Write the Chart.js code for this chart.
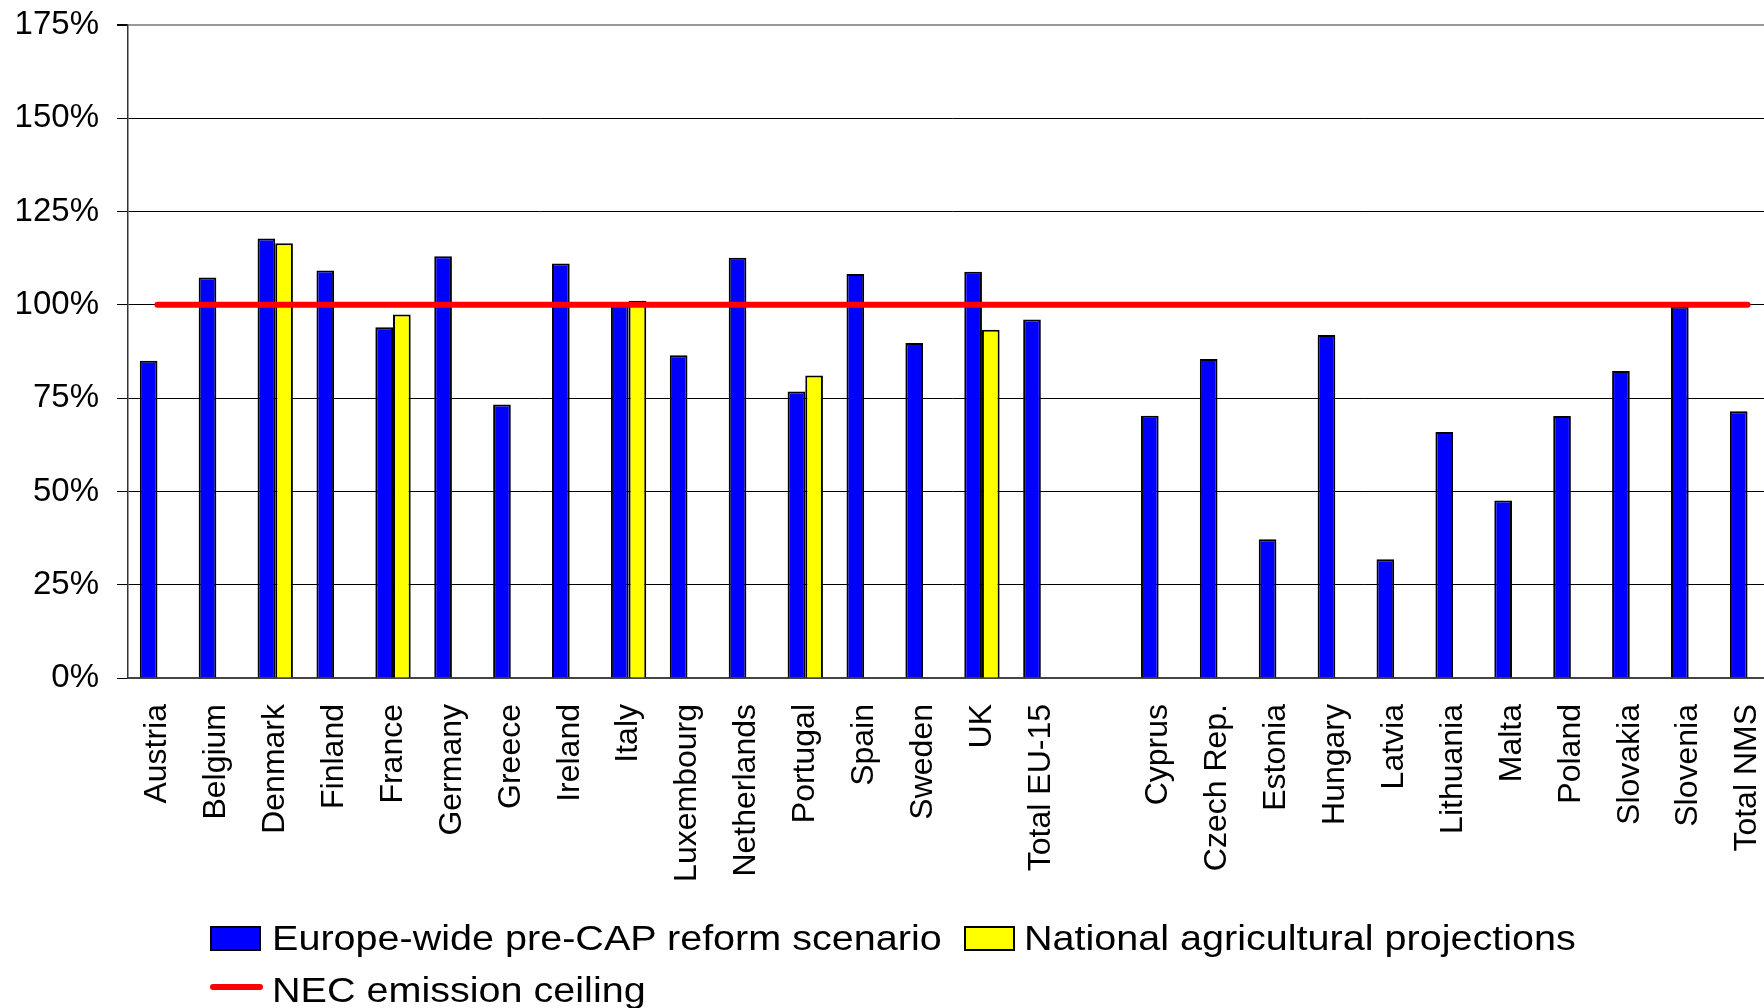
<!DOCTYPE html>
<html>
<head>
<meta charset="utf-8">
<script src="https://cdn.jsdelivr.net/npm/chart.js@4.4.0/dist/chart.umd.min.js"></script>
<style>
	html, body { margin: 0; padding: 0; background: #fff; overflow: hidden; }
	#container { position: absolute; left: 0; top: 0; width: 1777px; height: 1008px; }
	.legend-text {
		position: absolute;
		font-family: 'Liberation Sans', Arial, sans-serif;
		font-size: 35px;
		line-height: 35px;
		color: #000;
		white-space: nowrap;
		transform: scaleX(1.13);
		transform-origin: left top;
	}
	.legend-box { position: absolute; box-sizing: border-box; border: 2px solid #000; }
	.legend-line { position: absolute; height: 6px; border-radius: 3px; }
</style>
</head>
<body>
<div id="container"><canvas id="chart"></canvas></div>
<div id="legend"></div>
<script>
/// categories (empty slot separates EU-15 from the new member states)
const categories = [
	"Austria", "Belgium", "Denmark", "Finland", "France", "Germany", "Greece",
	"Ireland", "Italy", "Luxembourg", "Netherlands", "Portugal", "Spain", "Sweden",
	"UK", "Total EU-15", "",
	"Cyprus", "Czech Rep.", "Estonia", "Hungary", "Latvia", "Lithuania", "Malta",
	"Poland", "Slovakia", "Slovenia", "Total NMS"
]

// % of the NEC ceiling
const preCapScenario = [
	85, 107.3, 117.8, 109.2, 94, 113, 73.3,
	111.1, 100, 86.5, 112.6, 76.8, 108.3, 89.8,
	108.9, 96.1, null,
	70.3, 85.5, 37.2, 91.9, 31.8, 65.9, 47.6,
	70.2, 82.3, 99.5, 71.5
]

const nationalProjections = [
	null, null, 116.5, null, 97.4, null, null,
	null, 101.1, null, null, 81.1, null, null,
	93.3, null, null,
	null, null, null, null, null, null, null,
	null, null, null, null
]

const necCeiling = [
	100, 100, 100, 100, 100, 100, 100,
	100, 100, 100, 100, 100, 100, 100,
	100, 100, 100,
	100, 100, 100, 100, 100, 100, 100,
	100, 100, 100, 100
]

const yTicks = [0, 25, 50, 75, 100, 125, 150, 175]

const seriesNames = [
	"Europe-wide pre-CAP reform scenario",
	"National agricultural projections",
	"NEC emission ceiling"
]

const seriesColors = ["#0000FF", "#FFFF00", "#FF0000"]

const fontFamily = "'Liberation Sans', Arial, sans-serif"

// no extra room for the edge labels, the plot runs to the canvas edges
const noEdgePadding = scale => {
	scale.paddingLeft = 0
	scale.paddingRight = 0
	scale.paddingTop = 0
	scale.paddingBottom = 0
}

new Chart(document.getElementById("chart"), {
	type: "bar",
	data: {
		labels: categories,
		datasets: [
			{
				type: "line",
				label: seriesNames[2],
				data: necCeiling,
				borderColor: seriesColors[2],
				borderWidth: 6,
				borderCapStyle: "round",
				pointRadius: 0,
				fill: false,
				order: 0
			},
			{
				label: seriesNames[0],
				data: preCapScenario,
				backgroundColor: seriesColors[0],
				borderColor: "#000",
				borderWidth: 2,
				categoryPercentage: 0.6,
				barPercentage: 1,
				order: 1
			},
			{
				label: seriesNames[1],
				data: nationalProjections,
				backgroundColor: seriesColors[1],
				borderColor: "#000",
				borderWidth: 2,
				categoryPercentage: 0.6,
				barPercentage: 1,
				order: 2
			}
		]
	},
	options: {
		responsive: true,
		maintainAspectRatio: false,
		animation: false,
		layout: { padding: { top: 25, right: 0, bottom: 0, left: 0 } },
		plugins: {
			legend: { display: false },
			tooltip: { enabled: false }
		},
		scales: {
			x: {
				offset: true,
				grid: { display: false, drawTicks: false },
				border: { display: true, color: "#444", width: 2 },
				ticks: {
					autoSkip: false,
					minRotation: 90,
					maxRotation: 90,
					padding: 26,
					color: "#000",
					font: { family: fontFamily, size: 32 }
				},
				afterFit: scale => {
					scale.height = 330
					noEdgePadding(scale)
				}
			},
			y: {
				min: 0,
				max: 175,
				afterBuildTicks: scale => {
					scale.ticks = yTicks.map(v => ({ value: v }))
				},
				grid: {
					color: ctx => ctx.tick && ctx.tick.value === 175 ? "#999" : "#000",
					lineWidth: ctx => ctx.tick && ctx.tick.value === 175 ? 2 : 1,
					tickColor: "#000",
					tickLength: 11
				},
				border: { display: true, color: "#333", width: 1.5 },
				ticks: {
					padding: 18,
					color: "#000",
					font: { family: fontFamily, size: 33 },
					callback: v => v + "%"
				},
				afterFit: scale => {
					scale.width = 128
					noEdgePadding(scale)
				}
			}
		}
	}
})

// legend underneath the plot
const legend = document.getElementById("legend")

const addBox = (left, top, color) => {
	const box = document.createElement("div")
	box.className = "legend-box"
	Object.assign(box.style, { left: left + "px", top: top + "px", width: "51px", height: "25px", background: color })
	legend.appendChild(box)
}

const addLine = (left, top, color) => {
	const line = document.createElement("div")
	line.className = "legend-line"
	Object.assign(line.style, { left: left + "px", top: top + "px", width: "53px", background: color })
	legend.appendChild(line)
}

const addText = (left, top, text) => {
	const span = document.createElement("div")
	span.className = "legend-text"
	span.innerText = text
	Object.assign(span.style, { left: left + "px", top: top + "px" })
	legend.appendChild(span)
}

addBox(210, 926, seriesColors[0])
addText(272, 920, seriesNames[0])
addBox(964, 926, seriesColors[1])
addText(1024, 920, seriesNames[1])
addLine(210, 984, seriesColors[2])
addText(272, 972, seriesNames[2])
</script>
</body>
</html>
